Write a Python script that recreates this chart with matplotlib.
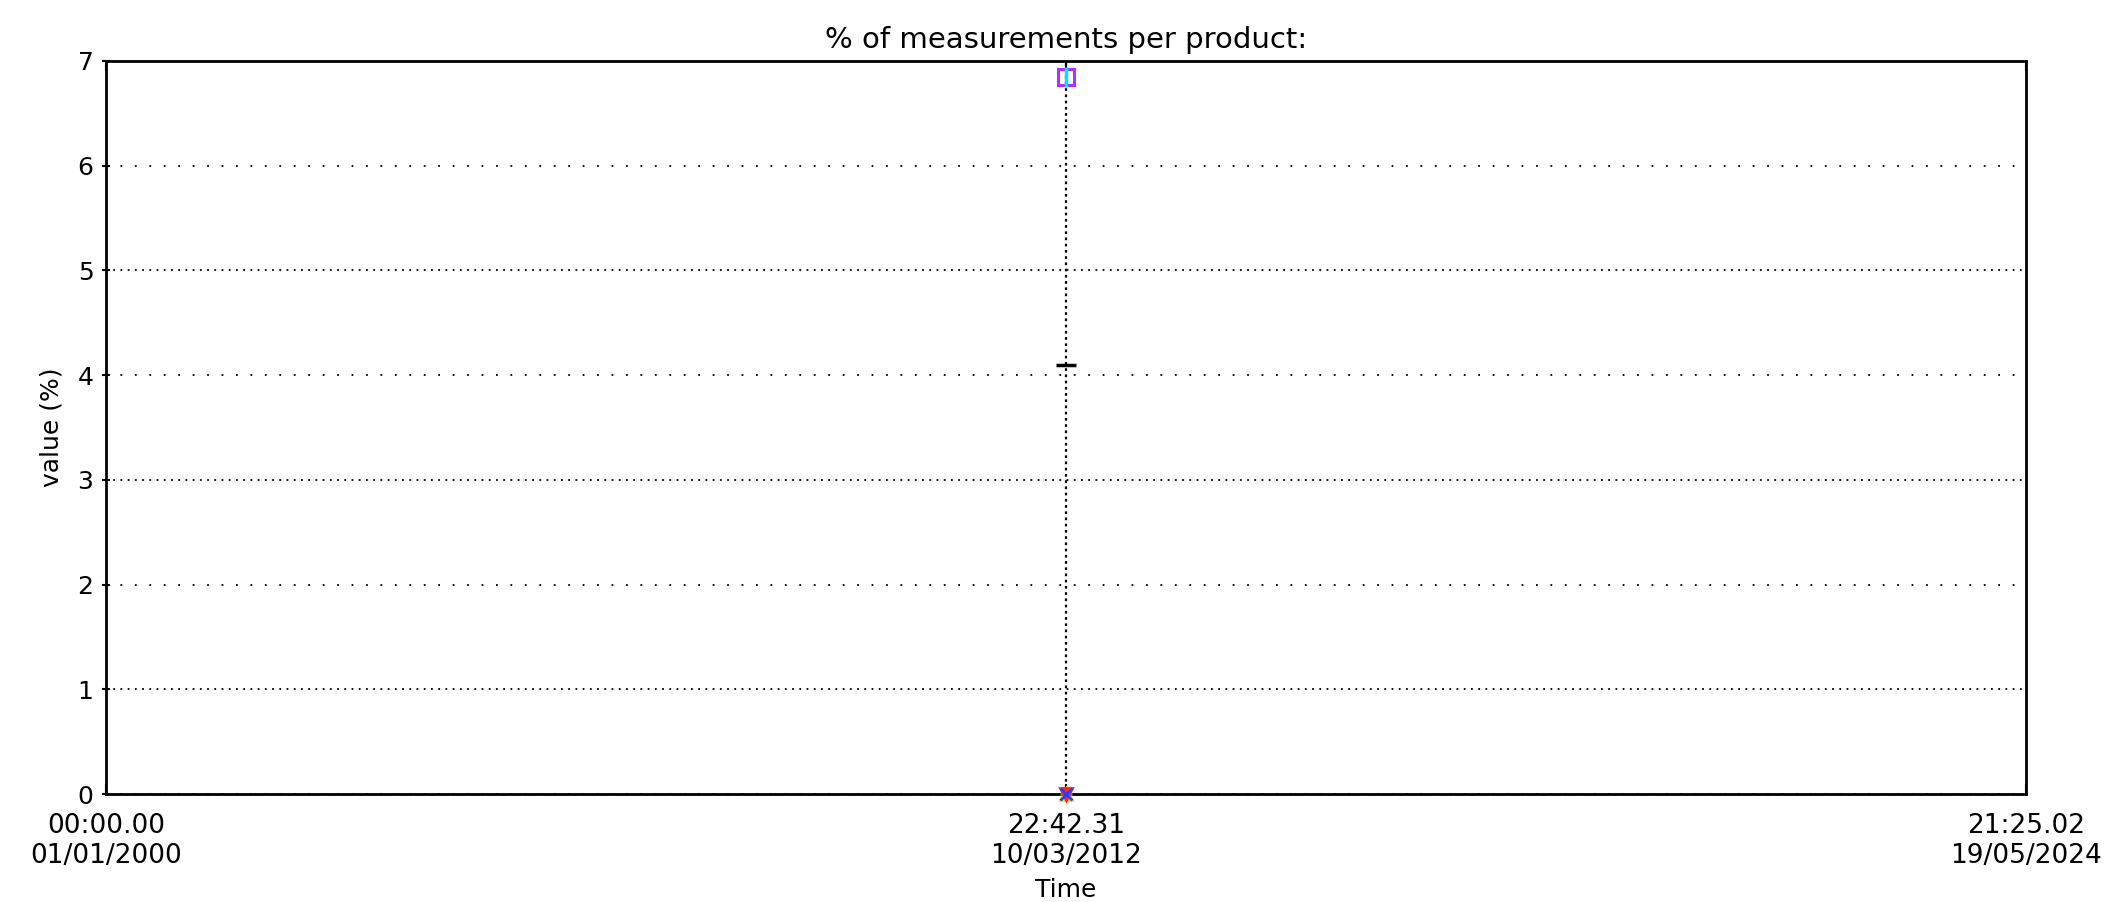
import matplotlib
matplotlib.use('Agg')
import matplotlib.pyplot as plt
from datetime import datetime

# time axis
t_start = datetime(2000, 1, 1, 0, 0, 0)
t_end = datetime(2024, 5, 19, 21, 25, 2)
t_mid = datetime(2012, 3, 10, 22, 42, 31)
tick_times = [t_start, t_mid, t_end]
tick_labels = ['00:00.00\n01/01/2000', '22:42.31\n10/03/2012', '21:25.02\n19/05/2024']

# one measurement time, one value per product
point_time = t_mid
product_values = [6.85, 6.85, 4.1, 0.0, 0.0, 0.0, 0.0]
product_colors = ['#b030ff', '#00e0ff', 'black', '#ffe000', '#20c020', '#ff2020', '#2040ff']
product_markers = ['s', '|', '_', '^', '+', 'v', 'x']

plt.rcParams['font.family'] = 'DejaVu Sans'
fig = plt.figure(figsize=(21.19, 9.02), dpi=100)
ax = fig.add_axes([0.05, 0.1197, 0.9061, 0.8127])

ax.vlines(point_time, 0, 7, color='black', linestyle=(0, (1.2, 1.6)), linewidth=1.6, zorder=2)
for v, c, m in zip(product_values, product_colors, product_markers):
    if m == 's':
        ax.plot([point_time], [v], marker=m, markersize=11, markerfacecolor='none',
                markeredgecolor=c, markeredgewidth=2.2, linestyle='none', zorder=3, clip_on=False)
    elif m in ('|', '_'):
        ax.plot([point_time], [v], marker=m, markersize=14, color=c,
                markeredgewidth=2.5, linestyle='none', zorder=4, clip_on=False)
    else:
        ax.plot([point_time], [v], marker=m, markersize=9, color=c,
                markeredgewidth=2, linestyle='none', zorder=4, clip_on=False)

ax.set_xlim(t_start, t_end)
ax.set_ylim(0, 7)
ax.set_xticks(tick_times)
ax.set_xticklabels(tick_labels)
ax.set_yticks(range(0, 8))

ax.yaxis.grid(True, color='black', linewidth=1.3)
for i, gl in enumerate(ax.get_ygridlines()):
    if i % 2 == 0:
        gl.set_dashes([1, 7])
    else:
        gl.set_dashes([1, 3])

for s in ax.spines.values():
    s.set_linewidth(2)
ax.tick_params(axis='x', direction='in', length=7, width=1.5, pad=14, labelsize=19, top=True)
ax.tick_params(axis='y', direction='inout', length=6, width=1.5, pad=6, labelsize=18)

ax.set_title('% of measurements per product:', fontsize=21, pad=9)
ax.set_xlabel('Time', fontsize=18, labelpad=6)
ax.set_ylabel('value (%)', fontsize=18, labelpad=10)

fig.savefig('out.png', dpi=100)
